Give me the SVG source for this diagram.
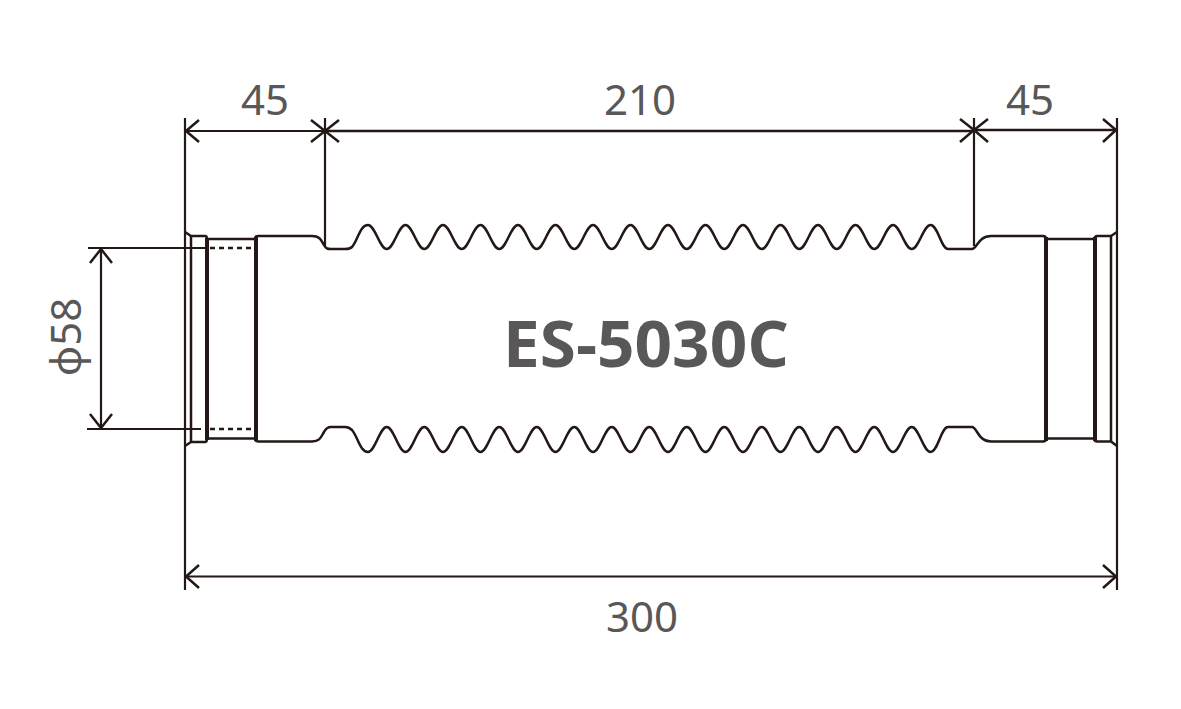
<svg xmlns="http://www.w3.org/2000/svg" width="1181" height="709" viewBox="0 0 1181 709">
<style>
.o{fill:none;stroke:#231815;stroke-width:2.5;stroke-linejoin:round}
.t{stroke-width:4}
.d{fill:none;stroke:#231815;stroke-width:2.2}
.h{fill:none;stroke:#231815;stroke-width:2.5}
.l{font-family:"Noto Sans","Open Sans","Liberation Sans",sans-serif;font-size:42px;fill:#595757;text-anchor:middle}
.b{font-family:"Open Sans","Noto Sans","Liberation Sans",sans-serif;font-weight:700;font-size:64px;fill:#595757}
</style>
<rect width="1181" height="709" fill="#ffffff"/>
<g id="hose-body">
<path class="o" d="M185 232L191 236H205Q207 236 207 239H255Q255 236 258 236H312C320 236 321 240 324 245C326 249 328 249 331 249H345C348 249 350 249 352 247C358 240 360 225 368 225
c7 0 11.75 24 18.75 24c7 0 11.75 -24 18.75 -24
c7 0 11.75 24 18.75 24c7 0 11.75 -24 18.75 -24
c7 0 11.75 24 18.75 24c7 0 11.75 -24 18.75 -24
c7 0 11.75 24 18.75 24c7 0 11.75 -24 18.75 -24
c7 0 11.75 24 18.75 24c7 0 11.75 -24 18.75 -24
c7 0 11.75 24 18.75 24c7 0 11.75 -24 18.75 -24
c7 0 11.75 24 18.75 24c7 0 11.75 -24 18.75 -24
c7 0 11.75 24 18.75 24c7 0 11.75 -24 18.75 -24
c7 0 11.75 24 18.75 24c7 0 11.75 -24 18.75 -24
c7 0 11.75 24 18.75 24c7 0 11.75 -24 18.75 -24
c7 0 11.75 24 18.75 24c7 0 11.75 -24 18.75 -24
c7 0 11.75 24 18.75 24c7 0 11.75 -24 18.75 -24
c7 0 11.75 24 18.75 24c7 0 11.75 -24 18.75 -24
c7 0 11.75 24 18.75 24c7 0 11.75 -24 18.75 -24
c7 0 11.75 24 18.75 24c7 0 11.75 -24 18.75 -24
C938 225 941 249 948 249H972C977 249 978 236 991 236H1043Q1046 236 1046 239H1094Q1095 236 1097 236H1111L1117 232"/>
<path class="o" d="M185 446L191 442H205Q207 442 207 438.500H255Q255 441.500 258 441.500H312C320 441.500 321 437 324 432C326 428 328 427 331 427H345C348 427 350 428 352 430C358 437 360 452 368 452
c7 0 11.75 -25 18.75 -25c7 0 11.75 25 18.75 25
c7 0 11.75 -25 18.75 -25c7 0 11.75 25 18.75 25
c7 0 11.75 -25 18.75 -25c7 0 11.75 25 18.75 25
c7 0 11.75 -25 18.75 -25c7 0 11.75 25 18.75 25
c7 0 11.75 -25 18.75 -25c7 0 11.75 25 18.75 25
c7 0 11.75 -25 18.75 -25c7 0 11.75 25 18.75 25
c7 0 11.75 -25 18.75 -25c7 0 11.75 25 18.75 25
c7 0 11.75 -25 18.75 -25c7 0 11.75 25 18.75 25
c7 0 11.75 -25 18.75 -25c7 0 11.75 25 18.75 25
c7 0 11.75 -25 18.75 -25c7 0 11.75 25 18.75 25
c7 0 11.75 -25 18.75 -25c7 0 11.75 25 18.75 25
c7 0 11.75 -25 18.75 -25c7 0 11.75 25 18.75 25
c7 0 11.75 -25 18.75 -25c7 0 11.75 25 18.75 25
c7 0 11.75 -25 18.75 -25c7 0 11.75 25 18.75 25
c7 0 11.75 -25 18.75 -25c7 0 11.75 25 18.75 25
C938 452 941 427 948 427H972C977 427 978 441.500 991 441.500H1043Q1046 441.500 1046 438.500H1094Q1095 441.500 1097 441.500H1111L1117 446"/>
<path class="o" d="M191 236V442M1111 236V442"/>
<path class="o t" d="M207 238V440M256 237V441M1046 237V441M1095 237V441"/>
<path d="M210 248H255M210 429H255" fill="none" stroke="#231815" stroke-width="2.500" stroke-dasharray="5 4"/>
</g>
<g id="connectors">
<path class="d" d="M185 118V590M1117 118V590M325 118V247M974 118V246"/>
<path class="d" d="M185 131H325"/>
<path class="h" d="M325 131H974M974 130H1117"/>
<path class="d" d="M185 576.500H1117"/>
<path class="d" d="M88 248H205M87 429H201"/>
<path class="d" d="M101 249V428"/>
<path class="h" d="M199 120L186 131L199 142M311 120L325 131L311 142M339 120L325 131L339 142M960 119L974 130L960 142M988 119L974 130L988 142M1103 119L1116 130L1103 142M199 565L186 576.500L199 588M1103 565L1116 576.500L1103 588M90 263L101 249L112 263M90 414L101 428L112 414"/>
</g>
<g id="labels">
<text class="l" x="265" y="115">45</text>
<text class="l" x="640" y="115">210</text>
<text class="l" x="1030" y="115">45</text>
<text class="l" x="642" y="632">300</text>
<text class="l" transform="translate(81 337) rotate(-90)">ϕ58</text>
<text class="b" x="503" y="367" textLength="286" lengthAdjust="spacingAndGlyphs">ES-5030C</text>
</g>
</svg>
